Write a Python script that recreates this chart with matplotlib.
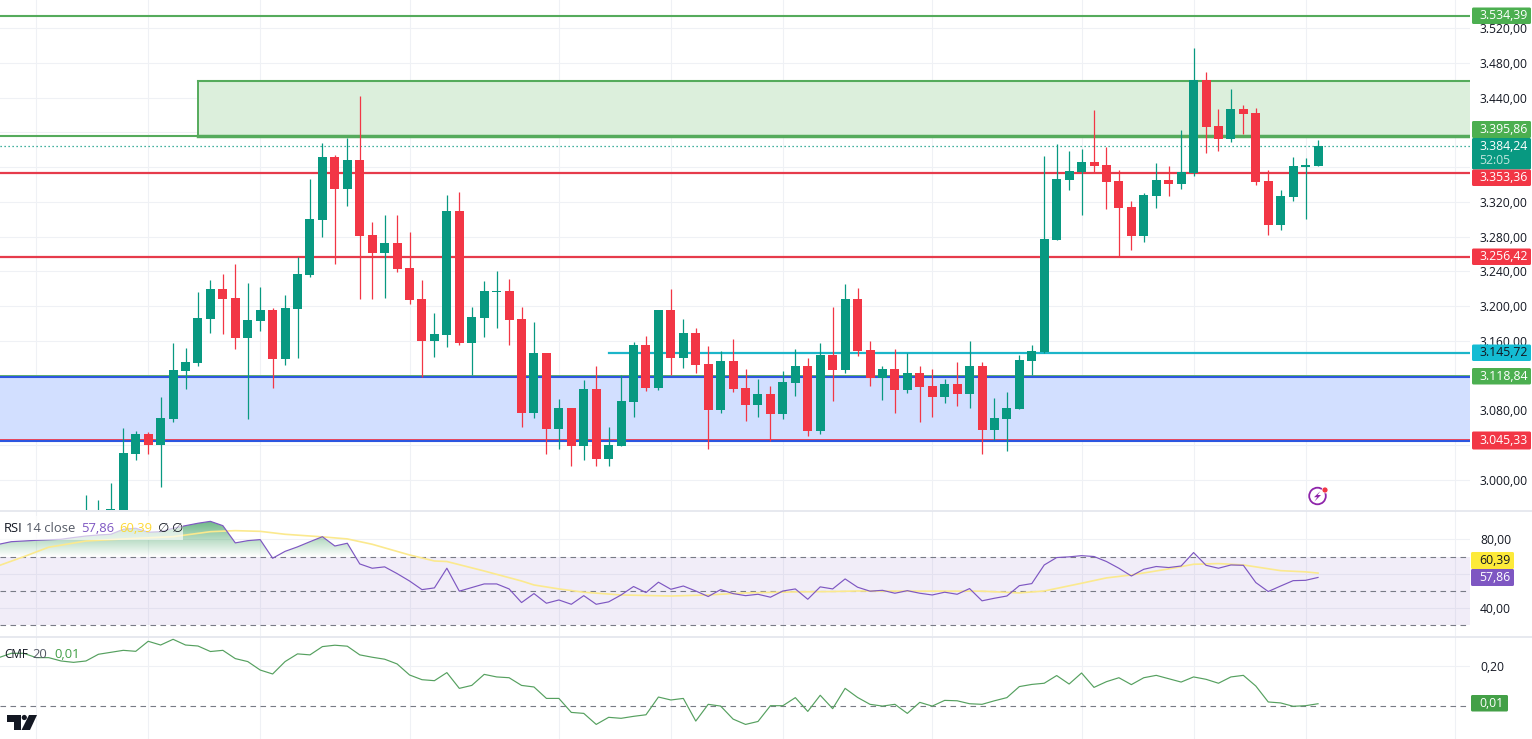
import numpy as np
import matplotlib
matplotlib.use('Agg')
import matplotlib.pyplot as plt
from matplotlib.lines import Line2D
from matplotlib.patches import Rectangle, FancyBboxPatch, Circle, Polygon
from matplotlib.path import Path
from matplotlib.ticker import FuncFormatter

plt.rcParams['font.family'] = ['Open Sans', 'DejaVu Sans']

# candles, first one is index -3
opens = [2950, 2955, 2965.3,
         2934.3, 3029.9, 3052.5, 3040.2, 3069.8, 3125.1, 3134.3, 3185.0, 3219.6, 3209.2,
         3163.1, 3182.7, 3195.4, 3138.9, 3196.5, 3235.7, 3299.0, 3371.6, 3334.8, 3368.2,
         3281.8, 3261.0, 3272.6, 3243.8, 3208.0, 3159.7, 3166.6, 3309.4, 3157.4, 3186.2,
         3216.5, 3217.3, 3185.0, 3076.7, 3145.8, 3058.3, 3082.5, 3038.7, 3104.4, 3023.7,
         3038.7, 3089.4, 3155.1, 3105.5, 3195.4, 3140.1, 3168.9, 3133.2, 3080.2, 3136.6,
         3105.5, 3086.0, 3098.6, 3075.6, 3111.3, 3130.9, 3056.0, 3143.5, 3126.3, 3208.0,
         3149.3, 3117.0, 3127.4, 3103.2, 3122.8, 3107.8, 3095.2, 3110.1, 3098.6, 3130.9,
         3057.1, 3069.8, 3081.4, 3136.7, 3147.0, 3276.0, 3345.1, 3354.3, 3365.8, 3362.4,
         3344.0, 3314.0, 3280.6, 3326.7, 3345.1, 3340.5, 3353.2, 3460.3, 3407.3, 3392.3,
         3426.9, 3422.3, 3344.0, 3293.3, 3325.5, 3360.5, 3361.2]
highs = [2982.3, 2976.5, 2995.7,
         3059.0, 3056.0, 3054.5, 3095.2, 3157.0, 3151.2, 3216.1, 3229.9, 3236.9, 3248.0,
         3226.1, 3221.9, 3197.3, 3212.7, 3256.0, 3346.3, 3387.4, 3373.9, 3393.1, 3441.9,
         3296.7, 3304.8, 3304.8, 3285.2, 3229.9, 3191.9, 3327.9, 3331.3, 3198.8, 3228.8,
         3240.3, 3231.1, 3198.8, 3181.5, 3145.8, 3092.9, 3082.5, 3114.8, 3130.9, 3060.6,
         3120.5, 3158.5, 3165.4, 3195.4, 3219.6, 3185.0, 3174.6, 3153.9, 3148.1, 3161.9,
         3127.4, 3115.9, 3107.8, 3125.1, 3150.4, 3140.1, 3157.4, 3198.8, 3225.3, 3220.7,
         3159.7, 3130.9, 3150.4, 3145.8, 3130.9, 3127.4, 3115.9, 3135.5, 3159.7, 3135.5,
         3094.0, 3100.9, 3143.6, 3155.1, 3372.8, 3386.2, 3378.5, 3380.8, 3425.8, 3383.5,
         3356.6, 3320.9, 3330.1, 3364.7, 3361.2, 3402.7, 3497.2, 3469.5, 3426.9, 3449.9,
         3431.5, 3428.1, 3356.6, 3333.6, 3371.6, 3370.5, 3391.2]
lows = [2945, 2948, 2955,
        2930, 3022.6, 3029.5, 2991.9, 3066.7, 3104.4, 3130.9, 3168.9, 3167.7, 3150.4,
        3069.8, 3171.2, 3105.5, 3132.0, 3140.1, 3233.8, 3279.5, 3248.4, 3315.2, 3208.0,
        3208.0, 3209.2, 3239.2, 3202.3, 3118.2, 3141.2, 3152.7, 3155.1, 3120.5, 3164.3,
        3174.6, 3155.1, 3060.6, 3070.9, 3029.5, 3035.3, 3015.7, 3022.6, 3015.7, 3015.7,
        3038.7, 3072.1, 3102.1, 3103.2, 3120.5, 3128.6, 3122.8, 3035.3, 3076.7, 3100.9,
        3067.5, 3072.1, 3044.5, 3069.8, 3096.3, 3050.2, 3052.5, 3090.5, 3122.8, 3142.4,
        3107.8, 3091.7, 3076.7, 3099.8, 3066.3, 3072.1, 3088.2, 3084.8, 3082.5, 3029.5,
        3045.6, 3032.9, 3081.4, 3120.5, 3146.0, 3276.0, 3333.6, 3304.8, 3354.3, 3311.7,
        3257.6, 3264.5, 3273.7, 3312.9, 3326.7, 3334.7, 3350.1, 3376.2, 3378.5, 3388.9,
        3398.1, 3339.4, 3281.8, 3287.5, 3320.9, 3300.2, 3361.2]
closes = [2962, 2965, 2966.1,
          3030.6, 3052.5, 3040.2, 3071.0, 3126.3, 3135.5, 3186.2, 3219.6, 3208.0, 3163.1,
          3183.8, 3195.4, 3138.9, 3197.7, 3236.9, 3300.2, 3371.6, 3334.8, 3368.2, 3280.6,
          3261.0, 3272.6, 3242.6, 3206.9, 3159.7, 3167.7, 3309.4, 3157.4, 3187.3, 3217.3,
          3217.3, 3183.8, 3076.7, 3145.8, 3058.3, 3082.5, 3038.7, 3104.4, 3023.7, 3039.9,
          3090.5, 3155.1, 3105.5, 3195.4, 3140.1, 3168.9, 3132.0, 3080.2, 3136.6, 3104.4,
          3086.0, 3098.6, 3075.6, 3112.4, 3130.9, 3056.0, 3143.5, 3126.3, 3208.0, 3148.1,
          3117.0, 3127.4, 3103.2, 3122.8, 3106.7, 3095.2, 3110.1, 3098.6, 3130.9, 3057.1,
          3071.0, 3082.5, 3137.8, 3148.2, 3277.1, 3346.3, 3355.5, 3365.8, 3361.2, 3342.8,
          3312.9, 3280.6, 3327.8, 3345.1, 3340.5, 3354.3, 3460.3, 3406.2, 3392.3, 3426.9,
          3421.1, 3342.8, 3293.3, 3326.7, 3361.2, 3362.4, 3384.24]

# indicators, first one is index -10
rsi = [77.1, 78.6, 79.0, 79.4, 79.7, 80.0, 81.0, 81.9, 82.5, 82.9,
       85.8, 86.4, 84.1, 84.4, 86.4, 87.9, 89.3, 90.4, 87.9, 77.9,
       79.2, 79.8, 69.0, 73.0, 75.6, 78.6, 81.5, 76.1, 77.7, 65.7,
       63.2, 64.0, 60.1, 55.8, 50.8, 51.8, 63.2, 49.9, 52.0, 54.1,
       54.1, 51.2, 43.3, 48.5, 42.9, 44.8, 42.3, 47.3, 42.3, 43.7,
       47.7, 52.6, 49.1, 55.1, 51.0, 52.9, 50.0, 46.8, 50.8, 48.5,
       47.3, 48.1, 46.4, 50.0, 51.2, 45.2, 52.4, 51.2, 57.0, 52.2,
       49.9, 50.4, 48.7, 50.2, 48.7, 47.7, 49.3, 48.1, 51.4, 44.3,
       45.8, 47.1, 53.1, 54.3, 65.1, 69.4, 69.8, 70.5, 70.0, 67.1,
       63.2, 58.7, 62.6, 64.2, 63.6, 64.5, 72.3, 64.9, 63.2, 65.1,
       64.9, 54.9, 49.7, 52.9, 56.0, 56.2, 57.86]
cmf = [.244, .266, .266, .244, .244, .227, .220, .227, .261, .271,
       .281, .276, .327, .308, .337, .308, .303, .275, .281, .239,
       .224, .181, .161, .224, .263, .258, .300, .307, .302, .258,
       .246, .236, .212, .156, .132, .127, .168, .088, .103, .159,
       .146, .142, .103, .095, .037, .037, -.034, -.039, -.095, -.059,
       -.064, -.054, -.046, .044, .029, .037, -.078, .007, -.002, -.068,
       -.095, -.080, 0, 0, .041, -.029, .053, -.015, .088, .042,
       .007, -.002, .007, -.039, .017, -.002, .027, .025, .010, .007,
       .025, .041, .097, .108, .114, .153, .110, .166, .093, .122,
       .142, .107, .142, .154, .137, .120, .146, .134, .114, .146,
       .154, .100, .019, .014, -.003, 0, .010]
# rsi moving average, read at a few places only
ma_idx = [-10, -8, -6, -3, 0, 4, 7, 9, 11, 13, 16, 18, 20, 23, 25, 26, 29, 32, 33, 35, 37, 40,
          44, 47, 50, 54, 57, 59, 64, 69, 72, 74, 77, 79, 81, 84, 86, 88, 90, 91, 93, 95, 96]
ma_val = [64.7, 69.9, 75.4, 79.0, 80.2, 81.5, 84.4, 85.0, 84.6, 82.9, 81.4, 80.2, 77.1, 70.9,
          67.4, 67.1, 61.6, 55.8, 53.5, 51.2, 49.3, 47.7, 47.1, 47.7, 48.9, 49.5, 49.7, 50.0,
          49.9, 49.9, 48.9, 50.0, 54.5, 57.6, 59.3, 62.8, 65.5, 65.9, 65.1, 64.0, 61.8, 61.1, 60.39]

price_ticks = [3520, 3480, 3440, 3400, 3360, 3320, 3280, 3240, 3200, 3160, 3120, 3080, 3040, 3000]
hidden_ticks = [3400, 3360, 3120, 3040, 60]  # sit behind the price tags
rsi_ticks = [80, 60, 40]
cmf_ticks = [0.2]
time_grid = [-7, 2, 11, 23, 35, 44, 53, 65, 77, 86, 95, 107]

level_top = 3534.39
level_zone = 3395.86
zone_top = 3459.5
level_red = [3353.36, 3256.42]
level_cyan = 3145.72
level_green2 = 3118.84
level_red2 = 3045.33
last_price = 3384.24

GREEN = '#089981'
RED = '#f23645'
LEVEL_GREEN = '#55ab5c'
BLUE = '#2c56e0'
GRID = '#eff1f5'
DASH = '#787b86'
TEXT = '#131722'
W, H = 1532, 739
CW = 12.445
X0 = 123.3


def price_fmt(v, pos):
    if v in hidden_ticks:
        return ''
    return f'{v:,.2f}'.replace(',', 'X').replace('.', ',').replace('X', '.')


def pane(top, bottom):
    ax = fig.add_axes([0, 1 - bottom / H, 1470 / W, (bottom - top) / H])
    ax.set_xlim(-X0 / CW, (1470 - X0) / CW)
    for s in ax.spines.values():
        s.set_visible(False)
    ax.yaxis.tick_right()
    ax.set_xticks(time_grid)
    ax.tick_params(length=0, pad=7.2, labelsize=8.7, labelcolor=TEXT, labelbottom=False)
    ax.grid(True, color=GRID, lw=0.8)
    ax.set_axisbelow(True)
    ax.yaxis.set_major_formatter(FuncFormatter(price_fmt))
    ax.patch.set_alpha(0)
    return ax


def small_fmt(v, pos):
    if v in hidden_ticks:
        return ''
    return f'{v:.2f}'.replace('.', ',')


fig = plt.figure(figsize=(W / 100, H / 100), dpi=100, facecolor='white')

############ price pane
ax = pane(0, 510)
ax.set_ylim(2965.0, 3552.47)
ax.set_yticks(price_ticks)
xr = ax.get_xlim()[1]

ax.add_patch(Rectangle((6, level_zone), xr - 6, zone_top - level_zone, fc='#dcefdc', ec='none', zorder=1))
ax.plot([6, 6], [level_zone, zone_top], color=LEVEL_GREEN, lw=1.4, zorder=2)
ax.plot([6, xr], [zone_top, zone_top], color=LEVEL_GREEN, lw=1.5, zorder=2)
ax.plot([6, xr], [level_zone - 0.4, level_zone - 0.4], color=LEVEL_GREEN, lw=2.5, zorder=2)
ax.plot([-20, 6], [level_zone + 0.4, level_zone + 0.4], color=LEVEL_GREEN, lw=1.5, zorder=2)
ax.axhline(level_top, color=LEVEL_GREEN, lw=1.5, zorder=2)
for lv in level_red:
    ax.axhline(lv, color='#e63b4b', lw=1.6, zorder=2)

ax.add_patch(Rectangle((-20, level_red2), xr + 20, level_green2 - level_red2, fc='#d2dfff', ec='none', zorder=1))
ax.axhline(level_green2 + 0.6, color=LEVEL_GREEN, lw=2.0, zorder=2)
ax.axhline(level_red2 + 0.6, color=RED, lw=2.0, zorder=2)
ax.axhline(level_green2 - 0.4, color=BLUE, lw=1.5, zorder=2.1)
ax.axhline(level_red2 - 0.8, color=BLUE, lw=1.5, zorder=2.1)
ax.plot([39, xr], [level_cyan, level_cyan], color='#1cb5c9', lw=1.6, zorder=2)
ax.axhline(last_price, color=GREEN, lw=0.9, ls=(0, (1, 2.2)), zorder=2)

idx = np.arange(-3, -3 + len(opens))
o, h, l, c = map(np.array, (opens, highs, lows, closes))
colors = [GREEN if cc >= oo else RED for oo, cc in zip(o, c)]
ax.vlines(idx, l, h, colors=colors, lw=0.9, zorder=3)
ax.bar(idx, np.abs(c - o), bottom=np.minimum(o, c), width=9 / CW, color=colors, lw=0, zorder=3.1)

############ rsi pane
ax2 = pane(511, 636)
ax2.set_ylim(23.9, 96.4)
ax2.set_yticks(rsi_ticks)
ax2.yaxis.set_major_formatter(FuncFormatter(small_fmt))
x_ind = np.arange(-10, -10 + len(rsi))
rsi_arr = np.array(rsi)
ax2.axhspan(30, 70, fc='#7e57c2', alpha=0.1, ec='none', zorder=1)
for lv in [70, 50, 30]:
    ax2.axhline(lv, color=DASH, lw=0.8, ls=(0, (5, 4)), zorder=2)

hull = ax2.fill_between(x_ind, rsi_arr, 70, where=rsi_arr >= 70, interpolate=True, alpha=0)
clip = Path.make_compound_path(*hull.get_paths())
grad = np.zeros((100, 2, 4))
grad[..., :3] = (0.19, 0.60, 0.33)
grad[..., 3] = np.linspace(0.72, 0, 100)[:, None]
xl = ax2.get_xlim()
im = ax2.imshow(grad, extent=(xl[0], xl[1], 70, 91), origin='upper', aspect='auto', zorder=1.5)
im.set_clip_path(clip, ax2.transData)
ax2.set_xlim(xl)
ax2.set_ylim(23.9, 96.4)

ax2.plot(ma_idx, ma_val, color='#fbe98e', lw=1.2, zorder=3)
ax2.plot(x_ind, rsi_arr, color='#7e57c2', lw=0.85, zorder=4)

############ cmf pane
ax3 = pane(637, 739)
ax3.set_ylim(-0.169, 0.3487)
ax3.set_yticks(cmf_ticks)
ax3.yaxis.set_major_formatter(FuncFormatter(small_fmt))
ax3.axhline(0, color=DASH, lw=0.8, ls=(0, (5, 4)), zorder=2)
ax3.plot(x_ind, cmf, color='#55a05f', lw=0.85, zorder=3)

for a in (ax, ax2, ax3):
    for t in a.get_yticklabels():
        t.set_verticalalignment('center_baseline')

############ labels on top, pixel coords
ui = fig.add_axes([0, 0, 1, 1], zorder=10)
ui.set_xlim(0, W)
ui.set_ylim(H, 0)
ui.axis('off')
for y in [510.5, 636.5]:
    ui.add_line(Line2D([0, W], [y, y], color='#e0e3eb', lw=1.1))


def tag(y0, y1, text, bg, fg='white', x0=1472, x1=1531, ty=None):
    ui.add_patch(FancyBboxPatch((x0, y0), x1 - x0, y1 - y0, boxstyle='round,pad=0,rounding_size=1.5',
                                fc=bg, ec='none', zorder=5))
    ui.text(1479.5, (y0 + y1) / 2 if ty is None else ty, text, color=fg, fontsize=8.8, va='center', ha='left',
            zorder=6, fontweight='medium')


tag(7.5, 24, '3.534,39', '#4caf50')
tag(121, 138, '3.395,86', '#4caf50')
tag(138, 169.5, '3.384,24', GREEN, ty=146)
ui.text(1479.5, 160, '52:05', color='#bfe6de', fontsize=8.8, va='center', zorder=6)
tag(169.5, 186, '3.353,36', RED)
tag(248.5, 265, '3.256,42', RED)
tag(344.5, 361, '3.145,72', '#14bcd3', fg=TEXT)
tag(368, 384.5, '3.118,84', '#4caf50')
tag(431.5, 449.5, '3.045,33', RED)
tag(552, 569, '60,39', '#fdea3a', fg=TEXT, x0=1471, x1=1514)
tag(569, 586, '57,86', '#7e57c2', x0=1471, x1=1514)
tag(695, 711.5, '0,01', '#43a047', x0=1471, x1=1508)

# legends
ui.add_patch(Rectangle((0, 516), 183, 24, fc='white', alpha=0.65, ec='none'))
for x, s, col in [(4, 'RSI', TEXT), (26, '14 close', '#555a66'), (81, '57,86', '#7e57c2'), (119, '60,39', '#fdd835'),
                  (158, '∅', TEXT), (172, '∅', TEXT)]:
    ui.text(x, 528, s, color=col, fontsize=9.4, va='center', ha='left')
ui.text(4, 655, 'CMF', color=TEXT, fontsize=8.4, va='center', ha='left')
for x, s, col in [(32, '20', '#555a66'), (54, '0,01', '#43a047')]:
    ui.text(x, 655, s, color=col, fontsize=9.4, va='center', ha='left')

# lightning mark
ui.add_patch(Circle((1317.5, 496), 8.3, fc='none', ec='#8e24aa', lw=1.3))
ui.add_patch(Polygon([(1320.5, 491), (1314, 497.2), (1317.2, 497.2), (1314.5, 501.5), (1321, 495), (1317.6, 495)],
                     fc='#8e24aa', ec='none'))
ui.add_patch(Circle((1325, 490), 3, fc=RED, ec='white', lw=0.5))

# tradingview logo
ui.add_patch(Polygon([(7, 715), (21, 715), (21, 730), (14, 730), (14, 722), (7, 722)], fc=TEXT, ec='none'))
ui.add_patch(Circle((24.3, 717.5), 2.6, fc=TEXT, ec='none'))
ui.add_patch(Polygon([(29, 715), (37, 715), (30, 730), (21.5, 730)], fc=TEXT, ec='none'))

plt.savefig('out.png', dpi=100, facecolor='white')
